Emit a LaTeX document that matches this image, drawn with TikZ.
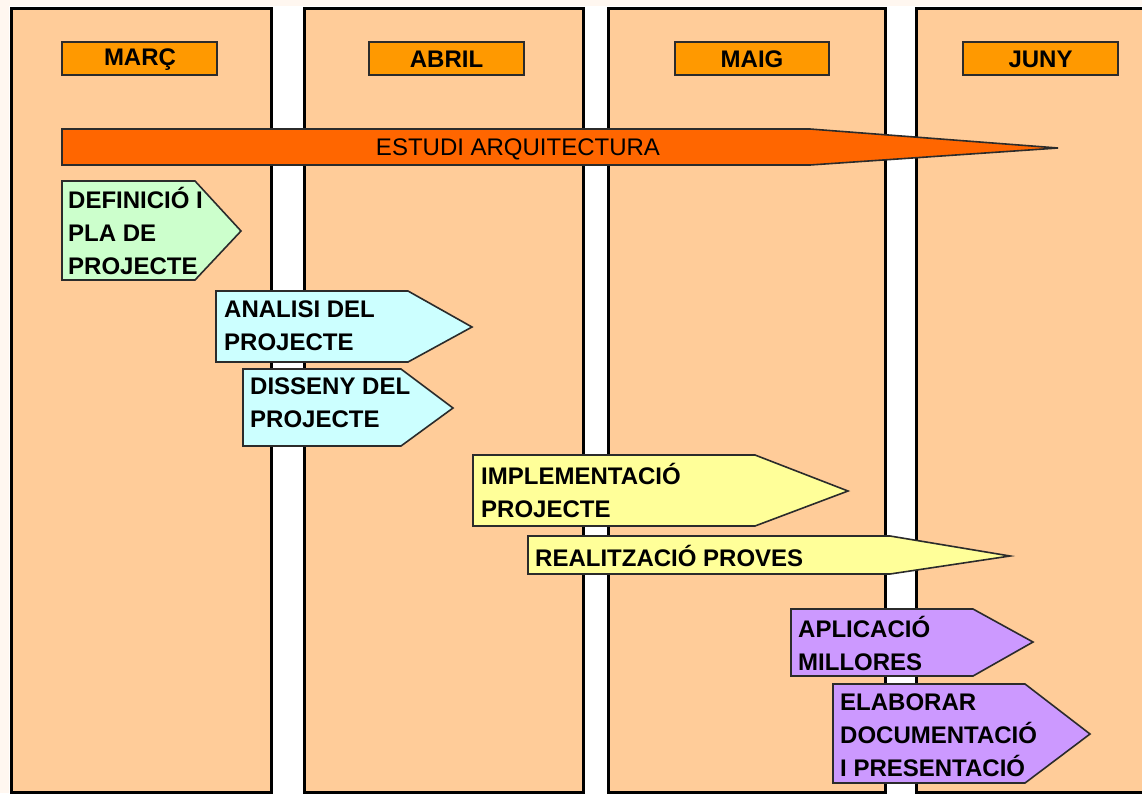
\documentclass[tikz,border=0pt]{standalone}
\usepackage{fontspec}
\setmainfont{Liberation Sans}
\definecolor{monthbg}{HTML}{FFCC99}
\definecolor{monthlabel}{HTML}{FF9900}
\definecolor{archbar}{HTML}{FF6600}
\definecolor{taskgreen}{HTML}{CCFFCC}
\definecolor{taskcyan}{HTML}{CCFFFF}
\definecolor{taskyellow}{HTML}{FFFF99}
\definecolor{taskviolet}{HTML}{CC99FF}
\definecolor{edgegray}{HTML}{2B2B2B}
\tikzset{
  monthcol/.style={fill=monthbg, draw=black, line width=3pt},
  monthtag/.style={fill=monthlabel, draw=edgegray, line width=1.5pt},
  tasksign/.style={draw=edgegray, line width=1.6pt, line join=miter},
  tasktext/.style={anchor=west, align=left, inner sep=0pt,
    font=\fontsize{24}{33}\selectfont\bfseries},
  monthtext/.style={inner sep=0pt, font=\fontsize{24}{28}\selectfont\bfseries},
}
\begin{document}
\begin{tikzpicture}[x=1pt,y=-1pt]
\useasboundingbox (0,0) rectangle (1142,793);
\clip (0,0) rectangle (1142,793);
\fill[white] (0,0) rectangle (1142,793);
\fill[orange!6] (0,0) rectangle (1142,6);
\fill[orange!6] (0,0) rectangle (9,793);

% month columns
\draw[monthcol] (11,8) rectangle (271,792.5);
\draw[monthcol] (304,8) rectangle (583,792.5);
\draw[monthcol] (608,8) rectangle (885,792.5);
\draw[monthcol] (916,8) rectangle (1160,792.5);

% month labels
\draw[monthtag] (62,42) rectangle (217,75);
\node[monthtext] (marc) at (140,59.5) {MARÇ};
\draw[monthtag] (369,42) rectangle (524,75);
\node[monthtext] (abril) at (446.5,59.5) {ABRIL};
\draw[monthtag] (675,42) rectangle (829,75);
\node[monthtext] (maig) at (752,59.5) {MAIG};
\draw[monthtag] (963,42) rectangle (1118,75);
\node[monthtext] (juny) at (1040.5,59.5) {JUNY};

% long architecture study bar
\draw[tasksign, fill=archbar] (62,129) -- (810,129) -- (1058,148) -- (810,165) -- (62,165) -- cycle;
\node[inner sep=0pt, font=\fontsize{24}{28}\selectfont] (arq) at (518,149) {ESTUDI ARQUITECTURA};

% task signs
\draw[tasksign, fill=taskgreen] (62,181) -- (195,181) -- (241,231) -- (195,280) -- (62,280) -- cycle;
\node[tasktext] (defi) at (68,231) {DEFINICIÓ I\\PLA DE\\PROJECTE};

\draw[tasksign, fill=taskcyan] (216,291) -- (408,291) -- (472,327) -- (408,362) -- (216,362) -- cycle;
\node[tasktext] (anal) at (224,326) {ANALISI DEL\\PROJECTE};

\draw[tasksign, fill=taskcyan] (243,369) -- (401,369) -- (453,408) -- (401,446) -- (243,446) -- cycle;
\node[tasktext] (diss) at (250,403) {DISSENY DEL\\PROJECTE};

\draw[tasksign, fill=taskyellow] (473,455) -- (755,455) -- (848,491) -- (755,526) -- (473,526) -- cycle;
\node[tasktext] (impl) at (481,490) {IMPLEMENTACIÓ\\PROJECTE};

\draw[tasksign, fill=taskyellow] (528,536) -- (890,536) -- (1010,556) -- (890,574) -- (528,574) -- cycle;
\node[tasktext] (prov) at (535,556) {REALITZACIÓ PROVES};

\draw[tasksign, fill=taskviolet] (791,609) -- (973,609) -- (1033,642) -- (973,676) -- (791,676) -- cycle;
\node[tasktext] (apli) at (798,643) {APLICACIÓ\\MILLORES};

\draw[tasksign, fill=taskviolet] (833,684) -- (1025,684) -- (1090,734) -- (1025,783) -- (833,783) -- cycle;
\node[tasktext] (elab) at (840,735) {ELABORAR\\DOCUMENTACIÓ\\I PRESENTACIÓ};
\end{tikzpicture}
\end{document}
